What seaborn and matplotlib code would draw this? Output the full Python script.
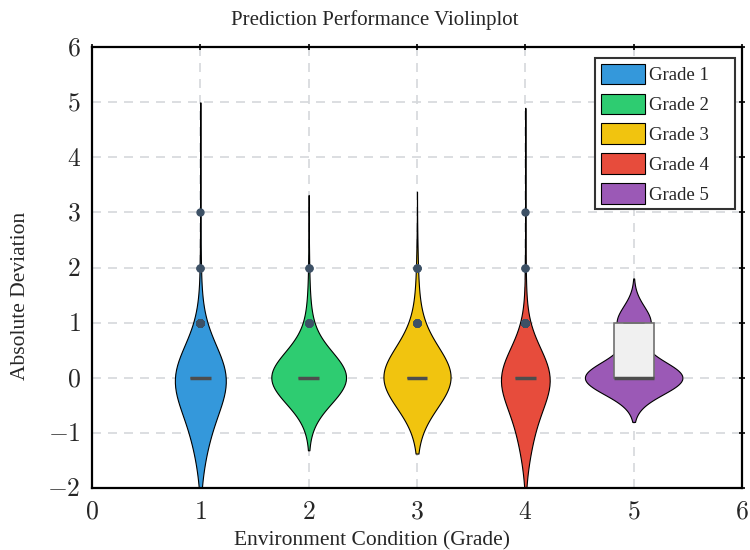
import numpy as np
import pandas as pd
import matplotlib
matplotlib.use("Agg")
import matplotlib.pyplot as plt
import seaborn as sns
from matplotlib.patches import Patch

# ---------------- data ----------------
grades = [1, 2, 3, 4, 5]
grade_labels = ["Grade 1", "Grade 2", "Grade 3", "Grade 4", "Grade 5"]
deviation_levels = [-1, 0, 1, 2, 3]
counts_grade1 = [40, 160, 8, 2, 1]
counts_grade2 = [0, 180, 10, 2, 0]
counts_grade3 = [0, 170, 12, 3, 0]
counts_grade4 = [40, 165, 6, 2, 1]
counts_grade5 = [0, 138, 48, 0, 0]
x_ticks = [0, 1, 2, 3, 4, 5, 6]
y_ticks = [-2, -1, 0, 1, 2, 3, 4, 5, 6]

# ---------------- style ----------------
colors = ["#3498db", "#2ecc71", "#f1c40f", "#e74c3c", "#9b59b6"]
kde_sigma = [0.60, 0.47, 0.55, 0.55, 0.30]
kde_cut = [3.33, 2.8, 2.5, 3.45, 2.67]
violin_width = [0.47, 0.69, 0.62, 0.45, 0.90]
box_width = [0.19, 0.19, 0.19, 0.19, 0.37]

sns.set_style("white")
plt.rcParams["font.family"] = ["Liberation Serif", "DejaVu Serif"]
plt.rcParams["mathtext.fontset"] = "cm"

all_counts = [counts_grade1, counts_grade2, counts_grade3, counts_grade4, counts_grade5]
frames = []
for g, cnt in zip(grades, all_counts):
    vals = np.repeat(deviation_levels, cnt)
    frames.append(pd.DataFrame({"grade": g, "deviation": vals}))
df = pd.concat(frames, ignore_index=True)
df["abs_deviation"] = df["deviation"].abs()

fig = plt.figure(figsize=(7.5, 5.5), dpi=100)
ax = fig.add_axes([92 / 750, 1 - 488 / 550, 650 / 750, 441 / 550])

for i, g in enumerate(grades):
    sub = df[df["grade"] == g]
    std = sub["deviation"].std()
    sns.violinplot(data=sub, x="grade", y="deviation", native_scale=True, orient="x",
                   color=colors[i], saturation=1, inner=None, density_norm="width",
                   width=violin_width[i], bw_method=kde_sigma[i] / std, cut=kde_cut[i],
                   linecolor="black", linewidth=0.8, ax=ax)
    sns.boxplot(data=sub, x="grade", y="abs_deviation", native_scale=True, orient="x",
                width=box_width[i], color="#f0f0f0", saturation=1, linecolor="#707070",
                linewidth=1.2, whis=1.5,
                flierprops=dict(marker="o", markerfacecolor="#3d5166",
                                markeredgecolor="#3d5166", markersize=5),
                medianprops=dict(color="#4d4d4d", linewidth=2.5),
                ax=ax)

ax.set_xlim(0, 6)
ax.set_ylim(-2, 6)
ax.set_xticks(x_ticks, labels=[f"${t}$" for t in x_ticks])
ax.set_yticks(y_ticks, labels=[f"${t}$" for t in y_ticks])
ax.tick_params(axis="both", which="major", direction="inout", length=4, width=1.2,
               top=True, right=True, labelsize=18.5, color="black")
ax.tick_params(axis="x", pad=8)
ax.tick_params(axis="y", pad=6)
ax.set_axisbelow(True)
ax.grid(True, color="#d5d8dc", linestyle=(0, (5.4, 4.2)), linewidth=1.2)
for s in ax.spines.values():
    s.set_visible(True)
    s.set_color("black")
    s.set_linewidth(1.6)

ax.set_xlabel("Environment Condition (Grade)", fontsize=15.5)
ax.xaxis.set_label_coords((372 - 92) / 650, (488 - 541) / 441)
ax.xaxis.label.set_va("center")
ax.set_ylabel("Absolute Deviation", fontsize=15.5)
ax.yaxis.set_label_coords((21 - 92) / 650, (488 - 296) / 441)
ax.yaxis.label.set_va("center")
fig.text(375 / 750, 1 - 20 / 550, "Prediction Performance Violinplot", fontsize=15,
         ha="center", va="center")

handles = [Patch(facecolor=c, edgecolor="black", linewidth=0.8, label=l)
           for c, l in zip(colors, grade_labels)]
x0 = (595 - 92) / 650
x1 = (735 - 92) / 650
y1 = (488 - 58) / 441
y0 = (488 - 213) / 441
leg = ax.legend(handles=handles, loc="upper left", mode="expand",
                bbox_to_anchor=(x0, y0, x1 - x0, y1 - y0), borderaxespad=0,
                frameon=True, fancybox=False, framealpha=1, edgecolor="#333333",
                fontsize=13.5, handlelength=2.35, handleheight=1.3, labelspacing=0.5,
                handletextpad=0.25, borderpad=0.3)
leg.get_frame().set_linewidth(1.5)

fig.savefig("out.png", dpi=100)
